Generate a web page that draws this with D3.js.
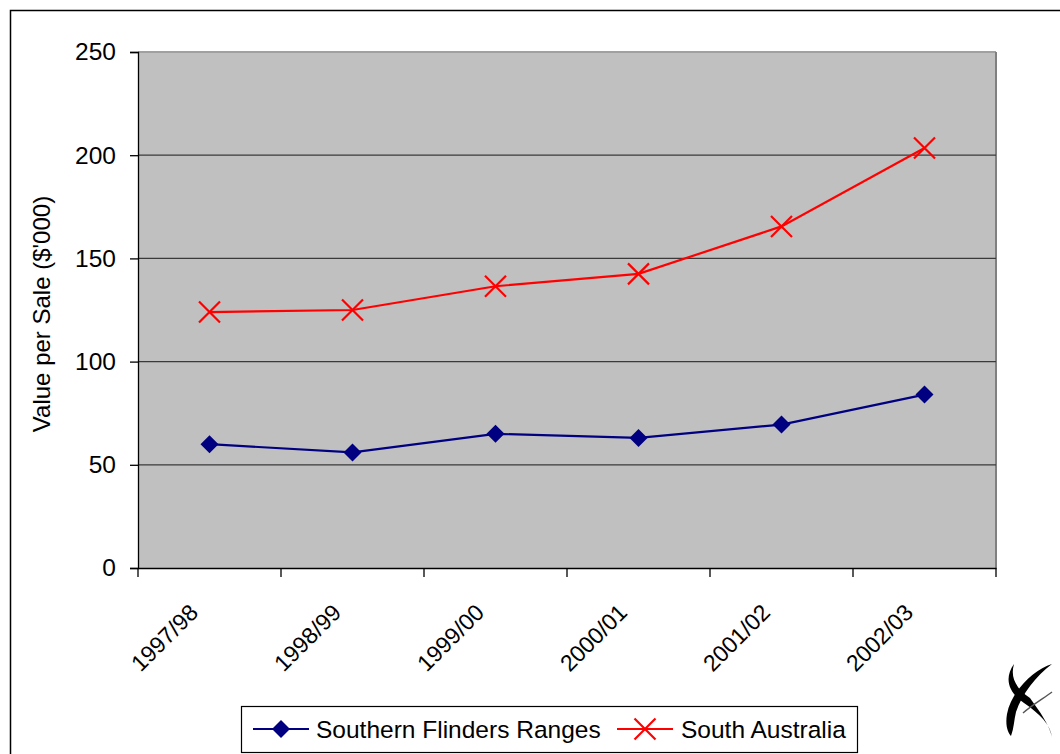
<!DOCTYPE html>
<html><head><meta charset="utf-8">
<script src="https://cdn.jsdelivr.net/npm/d3@7"></script>
<style>body{margin:0;background:#fff;}svg{display:block;font-family:"Liberation Sans",Arial,sans-serif;}</style>
</head><body>
<svg id="c" width="1060" height="754"></svg>
<script>
const categories = ["1997/98","1998/99","1999/00","2000/01","2001/02","2002/03"];
const flinders = [60, 56, 65, 63, 69.5, 84];
const southAus = [124, 125, 136.5, 142.5, 165.5, 203.5];
const yTicks = [0, 50, 100, 150, 200, 250];
const seriesNames = ["Southern Flinders Ranges", "South Australia"];

const svg = d3.select("#c");
const L = 138, R = 996, T = 52, B = 568;

svg.append("rect").attr("x",10.5).attr("y",10.5).attr("width",1070).attr("height",780)
  .attr("fill","#fff").attr("stroke","#000").attr("stroke-width",1.5);

const x = d3.scaleBand().domain(categories).range([L,R]);
const y = d3.scaleLinear().domain([0,250]).range([B,T]);

svg.append("rect").attr("x",L).attr("y",T).attr("width",R-L).attr("height",B-T).attr("fill","#c0c0c0");
svg.append("line").attr("x1",L).attr("x2",R).attr("y1",T).attr("y2",T).attr("stroke","#a0a0a0").attr("stroke-width",2);
svg.append("line").attr("x1",R).attr("x2",R).attr("y1",T).attr("y2",B).attr("stroke","#808080").attr("stroke-width",2);

// gridlines
svg.append("g").selectAll("line").data(yTicks.filter(d=>d>0 && d<250)).join("line")
  .attr("x1",L).attr("x2",R).attr("y1",d=>y(d)).attr("y2",d=>y(d))
  .attr("stroke","#3a3a3a").attr("stroke-width",1.3);

// y axis
const ya = svg.append("g").attr("transform",`translate(${L},0)`)
  .call(d3.axisLeft(y).tickValues(yTicks).tickSize(8).tickPadding(14));
ya.select(".domain").attr("stroke","#000").attr("stroke-width",1.3);
ya.selectAll(".tick line").attr("stroke","#000").attr("stroke-width",1.3);
ya.selectAll("text").attr("font-size",24.5).attr("fill","#000").attr("font-family","Liberation Sans, Arial, sans-serif");

// x axis
const xa = svg.append("g").attr("transform",`translate(0,${B})`)
  .call(d3.axisBottom(x).tickSize(0).tickFormat(""));
xa.select(".domain").attr("stroke","#000").attr("stroke-width",1.3);
const xticks = categories.map(c=>x(c)).concat([R]);
svg.append("g").selectAll("line").data(xticks).join("line")
  .attr("x1",d=>d).attr("x2",d=>d).attr("y1",B).attr("y2",B+9).attr("stroke","#000").attr("stroke-width",1.3);
svg.append("g").selectAll("text").data(categories).join("text")
  .attr("transform",d=>`translate(${x(d)+x.bandwidth()/2-10},${B+46}) rotate(-45)`)
  .attr("text-anchor","end").attr("font-size",23).attr("fill","#000").text(d=>d);

// y title
svg.append("text").attr("transform",`translate(50,${314}) rotate(-90)`)
  .attr("text-anchor","middle").attr("font-size",24).attr("fill","#000").text("Value per Sale ($'000)");

const cx = d => x(d)+x.bandwidth()/2;
const line = d3.line().x((d,i)=>cx(categories[i])).y(d=>y(d));

svg.append("path").datum(flinders).attr("d",line).attr("fill","none").attr("stroke","#000080").attr("stroke-width",2.2);
svg.append("path").datum(southAus).attr("d",line).attr("fill","none").attr("stroke","#ff0000").attr("stroke-width",2.2);

const diamond = (px,py,s)=>`M${px},${py-s}L${px+s},${py}L${px},${py+s}L${px-s},${py}Z`;
const cross = (px,py,s)=>`M${px-s},${py-s}L${px+s},${py+s}M${px-s},${py+s}L${px+s},${py-s}`;

svg.append("g").selectAll("path").data(flinders).join("path")
  .attr("d",(d,i)=>diamond(cx(categories[i]),y(d),9)).attr("fill","#000080");
svg.append("g").selectAll("path").data(southAus).join("path")
  .attr("d",(d,i)=>cross(cx(categories[i]),y(d),10.5)).attr("stroke","#ff0000").attr("stroke-width",2.2).attr("fill","none");

// legend
const lg = svg.append("g");
lg.append("rect").attr("x",241.5).attr("y",706.5).attr("width",616).attr("height",46).attr("fill","#fff").attr("stroke","#000").attr("stroke-width",1.2);
const items = [{x:253,c:"#000080",t:"dia",tx:316},{x:617,c:"#ff0000",t:"x",tx:681}];
items.forEach((it,i)=>{
  const ly = 729;
  lg.append("line").attr("x1",it.x).attr("x2",it.x+56).attr("y1",ly).attr("y2",ly).attr("stroke",it.c).attr("stroke-width",2.2);
  if(it.t==="dia") lg.append("path").attr("d",diamond(it.x+28,ly,9)).attr("fill",it.c);
  else lg.append("path").attr("d",cross(it.x+28,ly,10.5)).attr("stroke",it.c).attr("stroke-width",2.2);
  lg.append("text").attr("x",it.tx).attr("y",ly+9).attr("font-size",24.5).attr("fill","#000").text(seriesNames[i]);
});

// logo
const logo = svg.append("g").attr("fill","#000");
logo.append("path").attr("d","M1014,664 C1004,678 1008,692 1024,703 C1040,714 1050,724 1052,737 C1049,724 1040,712 1030,698 C1016,688 1010,678 1014,664 Z");
logo.append("path").attr("d","M1052,664 C1033,670 1011,692 1007,714 C1005,726 1008,733 1011,736 C1014,728 1014,720 1016,712 C1022,694 1036,676 1052,664 Z");
logo.append("path").attr("d","M1023,713 C1032,705 1044,698 1052,692").attr("fill","none").attr("stroke","#555").attr("stroke-width",1.4);
</script>
</body></html>
